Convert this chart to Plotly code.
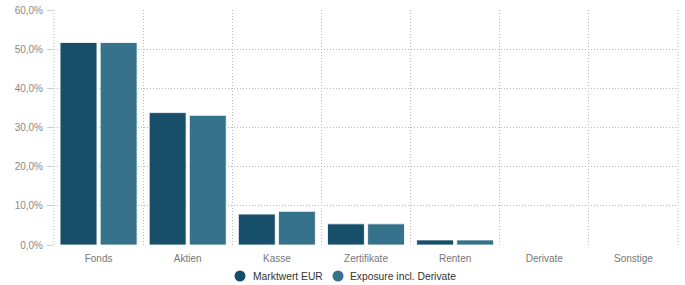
import plotly.graph_objects as go

categories = ["Fonds", "Aktien", "Kasse", "Zertifikate", "Renten", "Derivate", "Sonstige"]
marktwert = [51.7, 33.8, 7.9, 5.4, 1.3, 0.0, 0.0]
exposure = [51.7, 33.1, 8.6, 5.4, 1.3, 0.0, 0.0]
y_ticks = [0, 10, 20, 30, 40, 50, 60]
y_tick_labels = ["0,0%", "10,0%", "20,0%", "30,0%", "40,0%", "50,0%", "60,0%"]
series_names = ["Marktwert EUR", "Exposure incl. Derivate"]
colors = ["#174f6b", "#36728b"]

GRID = "#b8b8b8"
DOT = "1px,2px"
W, H = 685, 285
ML, MR, MT, MB = 54, 7, 10, 40
PW, PH = W - ML - MR, H - MT - MB

fig = go.Figure()
for name, vals, col in zip(series_names, [marktwert, exposure], colors):
    fig.add_trace(go.Bar(
        x=categories, y=vals, name=name, showlegend=False,
        marker=dict(color=col, line=dict(color="rgba(255,255,255,0.8)", width=1)),
    ))

# frame edges (left / right) drawn dotted like the grid
for xp in (0, 1):
    fig.add_shape(type="line", xref="paper", yref="paper", x0=xp, x1=xp, y0=0, y1=1,
                  line=dict(color=GRID, width=1, dash=DOT), layer="below")

# custom legend with round markers
legend_y = ((H - MB) - 276) / PH
legend_pos = [(240, 252), (338, 349)]
for (cx, tx), name, col in zip(legend_pos, series_names, colors):
    fig.add_shape(type="circle", xref="paper", yref="paper",
                  xsizemode="pixel", ysizemode="pixel",
                  xanchor=(cx - ML) / PW, yanchor=legend_y,
                  x0=-5.5, x1=5.5, y0=-5.5, y1=5.5,
                  fillcolor=col, line=dict(width=0))
    fig.add_annotation(x=(tx - ML) / PW, y=legend_y, xref="paper", yref="paper",
                       text=name, showarrow=False, xanchor="left", yanchor="middle",
                       xshift=-1, font=dict(size=10.3, color="#333333"))

fig.update_layout(
    width=W, height=H,
    margin=dict(l=ML, r=MR, t=MT, b=MB, autoexpand=False),
    plot_bgcolor="white", paper_bgcolor="white",
    barmode="group", bargap=0.1, bargroupgap=0.08,
    showlegend=False,
    font=dict(family="Liberation Sans, Arial, sans-serif", size=10, color="#777777"),
    xaxis=dict(
        tickson="boundaries", showgrid=True, gridcolor=GRID, griddash=DOT,
        gridwidth=1, ticks="", showline=False, zeroline=False, automargin=False,
        ticklabelstandoff=6,
        tickfont=dict(size=10, color="#777777"),
    ),
    yaxis=dict(
        range=[0, 60], tickvals=y_ticks, ticktext=y_tick_labels,
        showgrid=True, gridcolor=GRID, griddash=DOT, gridwidth=1,
        ticks="outside", ticklen=6, tickcolor="#c8d0d8", zeroline=False,
        showline=False, automargin=False, ticklabelstandoff=2,
        tickfont=dict(size=10, color="#888888"),
    ),
)
fig.write_html("out.html", config={"displayModeBar": False},
               post_script="document.body.style.margin='0';")
